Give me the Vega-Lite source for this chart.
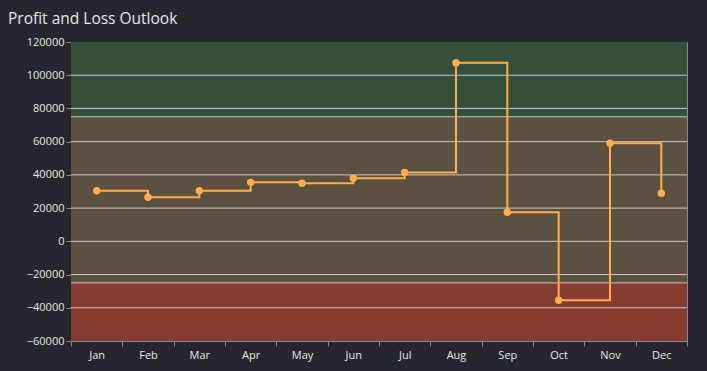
{
  "$schema": "https://vega.github.io/schema/vega-lite/v6.json",
  "width": 616,
  "height": 299,
  "autosize": {"type": "none"},
  "padding": {"left": 71, "top": 42, "right": 20, "bottom": 30},
  "background": "#25262e",
  "title": {
    "text": "Profit and Loss Outlook",
    "anchor": "start",
    "frame": "group",
    "dx": -63,
    "offset": -3,
    "baseline": "alphabetic",
    "fontSize": 15.5,
    "font": "Open Sans",
    "fontWeight": "normal",
    "color": "#e6e6e6"
  },
  "config": {
    "view": {"stroke": "#8a8a8a", "strokeWidth": 1},
    "axis": {
      "labelFont": "Open Sans",
      "labelFontSize": 11,
      "labelColor": "#e6e6e6",
      "tickColor": "#8a8a8a",
      "tickSize": 5,
      "domain": false,
      "grid": false,
      "title": null,
      "labelOverlap": false
    }
  },
  "datasets": {
    "pl": [
      {"month": "Jan", "value": 30500},
      {"month": "Feb", "value": 26500},
      {"month": "Mar", "value": 30500},
      {"month": "Apr", "value": 35500},
      {"month": "May", "value": 35000},
      {"month": "Jun", "value": 38000},
      {"month": "Jul", "value": 41500},
      {"month": "Aug", "value": 107500},
      {"month": "Sep", "value": 17500},
      {"month": "Oct", "value": -35500},
      {"month": "Nov", "value": 59000},
      {"month": "Dec", "value": 29000}
    ],
    "zones": [
      {"zone": "profit", "low": 75000, "high": 120000},
      {"zone": "neutral", "low": -25000, "high": 75000},
      {"zone": "loss", "low": -60000, "high": -25000}
    ],
    "grid": [
      {"value": -40000}, {"value": -25000}, {"value": -20000}, {"value": 0},
      {"value": 20000}, {"value": 40000}, {"value": 60000}, {"value": 75000},
      {"value": 80000}, {"value": 100000}
    ]
  },
  "layer": [
    {
      "data": {"name": "zones"},
      "mark": {"type": "rect"},
      "encoding": {
        "y": {
          "field": "high",
          "type": "quantitative",
          "scale": {"domain": [-60000, 120000], "nice": false, "zero": false},
          "axis": {"values": [-60000, -40000, -20000, 0, 20000, 40000, 60000, 80000, 100000, 120000], "format": "d", "labelPadding": 2, "labelBound": false, "labelOverlap": false, "labelFlush": false}
        },
        "y2": {"field": "low"},
        "color": {
          "field": "zone",
          "type": "nominal",
          "scale": {"domain": ["profit", "neutral", "loss"], "range": ["#34503a", "#5c5040", "#873c30"]},
          "legend": null
        }
      }
    },
    {
      "data": {"name": "grid"},
      "mark": {"type": "rule", "color": "#c9c9c9", "strokeWidth": 1},
      "encoding": {"y": {"field": "value", "type": "quantitative", "axis": {"values": [-60000, -40000, -20000, 0, 20000, 40000, 60000, 80000, 100000, 120000], "format": "d", "labelPadding": 2, "labelBound": false, "labelOverlap": false, "labelFlush": false}}}
    },
    {
      "data": {"name": "pl"},
      "mark": {
        "type": "line",
        "interpolate": "step-after",
        "color": "#ffad4f",
        "strokeWidth": 2,
        "point": {"filled": true, "size": 55, "color": "#ffad4f", "opacity": 1}
      },
      "encoding": {
        "x": {
          "field": "month",
          "type": "ordinal",
          "sort": null,
          "scale": {"type": "band", "paddingInner": 0, "paddingOuter": 0},
          "axis": {"tickBand": "extent", "labelAngle": 0, "labelPadding": 3}
        },
        "y": {"field": "value", "type": "quantitative", "axis": {"values": [-60000, -40000, -20000, 0, 20000, 40000, 60000, 80000, 100000, 120000], "format": "d", "labelPadding": 2, "labelBound": false, "labelOverlap": false, "labelFlush": false}}
      }
    }
  ]
}
